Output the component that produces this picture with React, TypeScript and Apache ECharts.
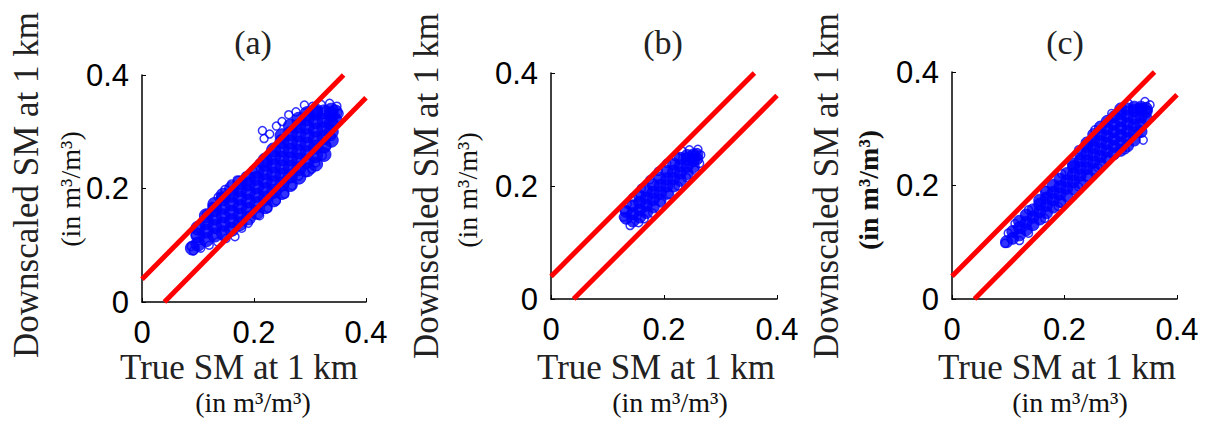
import React, { useEffect, useRef } from "react";
import * as echarts from "echarts";

const axisTicks = [0, 0.2, 0.4];
const panelTitles = ["(a)", "(b)", "(c)"];
const yTitle = "Downscaled SM at 1 km";
const xTitle = "True SM at 1 km";
const unitTitle = "(in m³/m³)";

const upperLine = [[0, 0.04], [0.36, 0.4]];
const lowerLine = [[0.04, 0], [0.4, 0.36]];

// Panel (a): dense core and outlying hollow circles
const coreA = [
  [0.09, 0.095],
  [0.1, 0.102], [0.1, 0.117], [0.1, 0.13],
  [0.115, 0.11], [0.115, 0.125], [0.115, 0.14], [0.115, 0.152],
  [0.13, 0.118], [0.13, 0.133], [0.13, 0.148], [0.13, 0.163], [0.13, 0.172],
  [0.145, 0.122], [0.145, 0.137], [0.145, 0.152], [0.145, 0.167], [0.145, 0.182], [0.145, 0.188],
  [0.16, 0.128], [0.16, 0.143], [0.16, 0.158], [0.16, 0.173], [0.16, 0.188], [0.16, 0.2],
  [0.175, 0.138], [0.175, 0.153], [0.175, 0.168], [0.175, 0.183], [0.175, 0.198], [0.175, 0.21],
  [0.19, 0.148], [0.19, 0.163], [0.19, 0.178], [0.19, 0.193], [0.19, 0.208], [0.19, 0.218],
  [0.205, 0.158], [0.205, 0.173], [0.205, 0.188], [0.205, 0.203], [0.205, 0.218], [0.205, 0.23],
  [0.22, 0.168], [0.22, 0.183], [0.22, 0.198], [0.22, 0.213], [0.22, 0.228], [0.22, 0.243], [0.22, 0.25],
  [0.235, 0.18], [0.235, 0.195], [0.235, 0.21], [0.235, 0.225], [0.235, 0.24], [0.235, 0.255], [0.235, 0.268],
  [0.25, 0.193], [0.25, 0.208], [0.25, 0.223], [0.25, 0.238], [0.25, 0.253], [0.25, 0.268], [0.25, 0.283], [0.25, 0.293],
  [0.265, 0.207], [0.265, 0.222], [0.265, 0.237], [0.265, 0.252], [0.265, 0.267], [0.265, 0.282], [0.265, 0.297], [0.265, 0.31],
  [0.28, 0.22], [0.28, 0.235], [0.28, 0.25], [0.28, 0.265], [0.28, 0.28], [0.28, 0.295], [0.28, 0.31], [0.28, 0.322],
  [0.295, 0.233], [0.295, 0.248], [0.295, 0.263], [0.295, 0.278], [0.295, 0.293], [0.295, 0.308], [0.295, 0.323], [0.295, 0.332],
  [0.31, 0.243], [0.31, 0.258], [0.31, 0.273], [0.31, 0.288], [0.31, 0.303], [0.31, 0.318], [0.31, 0.333], [0.31, 0.337],
  [0.325, 0.26], [0.325, 0.275], [0.325, 0.29], [0.325, 0.305], [0.325, 0.32], [0.325, 0.335],
  [0.338, 0.285], [0.338, 0.3], [0.338, 0.315], [0.338, 0.33], [0.338, 0.338],
  [0.345, 0.32], [0.345, 0.335],
];
const edgeA = [
  [0.215, 0.302], [0.218, 0.288], [0.228, 0.296], [0.24, 0.31], [0.25, 0.318], [0.262, 0.33],
  [0.275, 0.335], [0.29, 0.347], [0.305, 0.345], [0.32, 0.348], [0.335, 0.35], [0.348, 0.345],
  [0.352, 0.332], [0.345, 0.312], [0.338, 0.292], [0.33, 0.275], [0.322, 0.258], [0.31, 0.245],
  [0.303, 0.234], [0.292, 0.228], [0.28, 0.222], [0.268, 0.205], [0.255, 0.19], [0.24, 0.178],
  [0.225, 0.165], [0.21, 0.152], [0.19, 0.139], [0.178, 0.13], [0.166, 0.115], [0.15, 0.112],
  [0.135, 0.106], [0.12, 0.1], [0.105, 0.095], [0.092, 0.09], [0.088, 0.098], [0.095, 0.118],
  [0.105, 0.135], [0.115, 0.155], [0.125, 0.168], [0.136, 0.185], [0.148, 0.198], [0.16, 0.208],
  [0.17, 0.215], [0.185, 0.222], [0.198, 0.232], [0.21, 0.245],
];

// Panel (b)
const coreB = [
  [0.133, 0.143], [0.133, 0.155],
  [0.145, 0.138], [0.145, 0.151], [0.145, 0.165],
  [0.157, 0.145], [0.157, 0.158], [0.157, 0.171], [0.157, 0.182],
  [0.169, 0.153], [0.169, 0.166], [0.169, 0.179], [0.169, 0.192],
  [0.181, 0.163], [0.181, 0.176], [0.181, 0.189], [0.181, 0.202],
  [0.193, 0.175], [0.193, 0.188], [0.193, 0.201], [0.193, 0.214],
  [0.205, 0.187], [0.205, 0.2], [0.205, 0.213], [0.205, 0.226],
  [0.217, 0.2], [0.217, 0.213], [0.217, 0.226], [0.217, 0.239],
  [0.229, 0.21], [0.229, 0.223], [0.229, 0.236], [0.229, 0.249],
  [0.241, 0.222], [0.241, 0.235], [0.241, 0.248], [0.241, 0.254],
  [0.252, 0.234], [0.252, 0.246], [0.252, 0.255],
  [0.258, 0.248], [0.258, 0.256],
];
const edgeB = [
  [0.128, 0.145], [0.13, 0.158], [0.14, 0.13], [0.155, 0.135], [0.165, 0.142], [0.18, 0.152],
  [0.195, 0.17], [0.21, 0.185], [0.225, 0.2], [0.24, 0.215], [0.255, 0.228], [0.263, 0.24],
  [0.265, 0.255], [0.26, 0.265], [0.245, 0.264], [0.232, 0.262], [0.22, 0.252], [0.205, 0.24],
  [0.19, 0.226], [0.175, 0.211], [0.16, 0.196], [0.145, 0.18], [0.135, 0.168],
];

// Panel (c)
const coreC = [
  [0.097, 0.101],
  [0.108, 0.107], [0.108, 0.119],
  [0.12, 0.113], [0.12, 0.126], [0.12, 0.137],
  [0.132, 0.122], [0.132, 0.135], [0.132, 0.148],
  [0.144, 0.131], [0.144, 0.144], [0.144, 0.157],
  [0.156, 0.141], [0.156, 0.154], [0.156, 0.167], [0.156, 0.174],
  [0.168, 0.152], [0.168, 0.165], [0.168, 0.178], [0.168, 0.188],
  [0.18, 0.162], [0.18, 0.175], [0.18, 0.188], [0.18, 0.2],
  [0.192, 0.172], [0.192, 0.185], [0.192, 0.198], [0.192, 0.211],
  [0.204, 0.182], [0.204, 0.195], [0.204, 0.208], [0.204, 0.221],
  [0.216, 0.194], [0.216, 0.207], [0.216, 0.22], [0.216, 0.233], [0.216, 0.238],
  [0.228, 0.205], [0.228, 0.218], [0.228, 0.231], [0.228, 0.244], [0.228, 0.256],
  [0.24, 0.217], [0.24, 0.23], [0.24, 0.243], [0.24, 0.256], [0.24, 0.269], [0.24, 0.275],
  [0.252, 0.228], [0.252, 0.241], [0.252, 0.254], [0.252, 0.267], [0.252, 0.28], [0.252, 0.29],
  [0.264, 0.238], [0.264, 0.251], [0.264, 0.264], [0.264, 0.277], [0.264, 0.29], [0.264, 0.303],
  [0.276, 0.248], [0.276, 0.261], [0.276, 0.274], [0.276, 0.287], [0.276, 0.3], [0.276, 0.313],
  [0.288, 0.256], [0.288, 0.269], [0.288, 0.282], [0.288, 0.295], [0.288, 0.308], [0.288, 0.321],
  [0.3, 0.262], [0.3, 0.275], [0.3, 0.288], [0.3, 0.301], [0.3, 0.314], [0.3, 0.327], [0.3, 0.335],
  [0.312, 0.27], [0.312, 0.283], [0.312, 0.296], [0.312, 0.309], [0.312, 0.322], [0.312, 0.335],
  [0.324, 0.28], [0.324, 0.293], [0.324, 0.306], [0.324, 0.319], [0.324, 0.332], [0.324, 0.338],
  [0.336, 0.295], [0.336, 0.308], [0.336, 0.321], [0.336, 0.334], [0.336, 0.338],
  [0.345, 0.318], [0.345, 0.33], [0.345, 0.336],
];
const edgeC = [
  [0.094, 0.098], [0.1, 0.116], [0.112, 0.133], [0.136, 0.157], [0.165, 0.192], [0.195, 0.221],
  [0.225, 0.263], [0.254, 0.298], [0.284, 0.327], [0.313, 0.345], [0.343, 0.348], [0.352, 0.342],
  [0.349, 0.333], [0.331, 0.292], [0.34, 0.28], [0.308, 0.263], [0.278, 0.245], [0.26, 0.231],
  [0.254, 0.227], [0.242, 0.215], [0.225, 0.198], [0.195, 0.169], [0.189, 0.163], [0.165, 0.142],
  [0.136, 0.116], [0.12, 0.103],
];

const panelCores = [coreA, coreB, coreC];
const panelEdges = [edgeA, edgeB, edgeC];

export default function App() {
  const ref = useRef<HTMLDivElement>(null);
  useEffect(() => {
    if (!ref.current) return;
    const chart = echarts.init(ref.current, undefined, { renderer: "svg" });
    const grids = [
      { left: 142, top: 75, width: 224, height: 227 },
      { left: 551, top: 73, width: 226, height: 226 },
      { left: 952, top: 72, width: 225, height: 227 },
    ];
    const coreSizes = [14, 12, 12];
    const layout = [
      { title: [253, 42], y1: [26, 185], y2: [70, 189], x1: [239, 367], x2: [253, 402] },
      { title: [663, 42], y1: [426, 186], y2: [467, 190], x1: [656, 367], x2: [670, 402] },
      { title: [1065, 42], y1: [826, 186], y2: [868, 190], x1: [1057, 367], x2: [1070, 402] },
    ];
    const axisCommon = {
      type: "value",
      min: axisTicks[0],
      max: axisTicks[axisTicks.length - 1],
      interval: axisTicks[1] - axisTicks[0],
      axisLine: { show: true, onZero: false, lineStyle: { color: "#000", width: 1.5 } },
      axisTick: { show: true, inside: true, length: 4, lineStyle: { color: "#000", width: 1 } },
      splitLine: { show: false },
    };
    const xAxes = grids.map((_, i) => ({
      ...axisCommon,
      gridIndex: i,
      axisLabel: { fontSize: 31, fontFamily: "Liberation Sans", color: "#000", margin: 15 },
    }));
    const yAxes = grids.map((_, i) => ({
      ...axisCommon,
      gridIndex: i,
      axisLabel: { fontSize: 31, fontFamily: "Liberation Sans", color: "#000", margin: 13 },
    }));
    const series: any[] = [];
    grids.forEach((_, i) => {
      series.push({
        type: "scatter",
        xAxisIndex: i,
        yAxisIndex: i,
        data: panelEdges[i],
        symbol: "circle",
        symbolSize: 8,
        itemStyle: { color: "rgba(0,0,0,0)", borderColor: "#0000ff", borderWidth: 1.5 },
        z: 2,
      });
      series.push({
        type: "scatter",
        xAxisIndex: i,
        yAxisIndex: i,
        data: panelCores[i],
        symbol: "circle",
        symbolSize: coreSizes[i],
        itemStyle: { color: "#0000ff", borderColor: "#0000ff", borderWidth: 1 },
        z: 3,
      });
      [upperLine, lowerLine].forEach((ln) => {
        series.push({
          type: "line",
          xAxisIndex: i,
          yAxisIndex: i,
          data: ln,
          showSymbol: false,
          symbol: "none",
          lineStyle: { color: "#ff0000", width: 5 },
          z: 5,
        });
      });
    });
    const serif = "Liberation Serif";
    const graphics: any[] = [];
    layout.forEach((L, i) => {
      graphics.push({
        type: "text", x: L.title[0], y: L.title[1],
        style: { text: panelTitles[i], fontSize: 34, fontFamily: serif, fill: "#222", textAlign: "center", textVerticalAlign: "middle" },
      });
      graphics.push({
        type: "text", x: L.y1[0], y: L.y1[1], rotation: Math.PI / 2,
        style: { text: yTitle, fontSize: 35, fontFamily: serif, fill: "#222", textAlign: "center", textVerticalAlign: "middle" },
      });
      graphics.push({
        type: "text", x: L.y2[0], y: L.y2[1], rotation: Math.PI / 2,
        style: { text: unitTitle, fontSize: 28, fontFamily: serif, fontWeight: i === 2 ? "bold" : "normal", fill: "#111", textAlign: "center", textVerticalAlign: "middle" },
      });
      graphics.push({
        type: "text", x: L.x1[0], y: L.x1[1],
        style: { text: xTitle, fontSize: 35, fontFamily: serif, fill: "#222", textAlign: "center", textVerticalAlign: "middle" },
      });
      graphics.push({
        type: "text", x: L.x2[0], y: L.x2[1],
        style: { text: unitTitle, fontSize: 28, fontFamily: serif, fill: "#111", textAlign: "center", textVerticalAlign: "middle" },
      });
    });
    chart.setOption({
      animation: false,
      backgroundColor: "#fff",
      grid: grids,
      xAxis: xAxes,
      yAxis: yAxes,
      series,
      graphic: graphics,
    });
    return () => chart.dispose();
  }, []);
  return (
    <div
      ref={ref}
      style={{ position: "fixed", left: 0, top: 0, width: 1208, height: 426, background: "#fff" }}
    />
  );
}
